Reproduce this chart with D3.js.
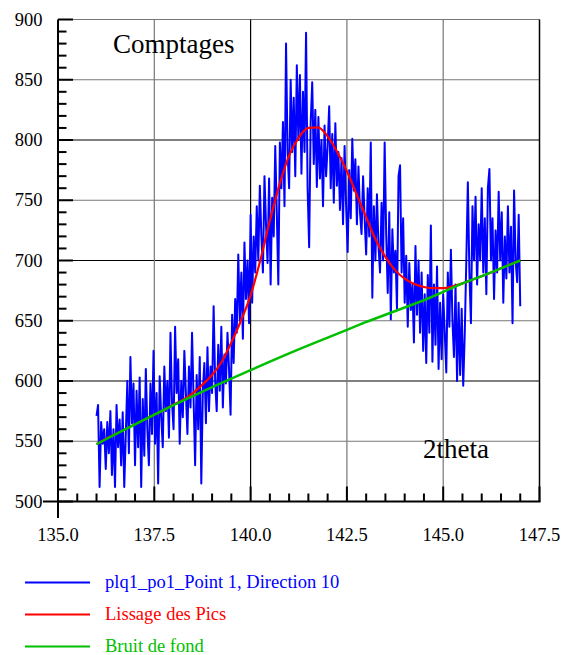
<!DOCTYPE html>
<html><head><meta charset="utf-8">
<script src="https://cdn.jsdelivr.net/npm/d3@7"></script>
<style>body{margin:0;background:#fff}svg{display:block}text{font-family:"Liberation Serif","Times New Roman",serif}</style>
</head><body>
<script>
// ---- data ----
const xStart = 136.0, xStep = 0.04;
const blueValues = [
571,580,512,566,548,560,527,566,540,575,522,560,512,580,545,568,530,574,512,556,600,540,620,565,598,
530,592,545,603,512,585,538,610,560,530,598,556,625,548,590,515,604,570,545,612,575,600,553,640,582,
560,645,590,618,548,600,570,625,590,556,612,578,640,585,530,605,560,620,515,592,615,565,628,575,612,
590,662,600,575,630,592,645,578,622,598,640,610,572,655,615,668,640,705,650,690,635,715,668,700,648,
738,665,720,690,745,700,762,720,690,770,730,698,768,680,752,720,795,740,680,798,760,815,745,880,790,
760,850,790,835,770,862,800,854,772,840,790,889,760,711,815,848,780,825,761,819,768,800,745,812,770,
795,828,760,805,748,814,762,790,742,785,730,795,745,707,775,735,801,758,784,730,778,740,722,770,735,
705,760,720,798,669,745,700,755,712,690,748,700,798,722,673,740,651,726,690,708,660,770,779,690,735,
665,704,645,698,659,680,632,712,655,700,640,690,625,672,615,688,640,729,616,680,630,695,610,665,618,
672,640,607,690,645,709,650,620,680,600,665,605,660,596,640,700,765,690,648,745,700,753,680,730,700,
760,690,735,672,760,776,700,735,668,725,690,757,700,740,665,720,685,745,690,728,648,758,700,682,738,662
];
const smoothX = [136,136.25,136.5,136.75,137,137.25,137.5,137.75,138,138.25,138.5,138.75,139,139.25,139.5,139.75,140,140.25,140.5,140.75,141,141.25,141.5,141.75,142,142.25,142.5,142.75,143,143.25,143.5,143.75,144,144.25,144.5,144.75,145,145.25,145.5,145.75,146,146.25,146.5,146.75,147];
const smoothY = [547.5,552,556,560,564,568,572,576,580.5,584.5,590,597,605,616,632,650,671,700,733,763,787,802,810,810.5,803,790,774,755,736,717,703,692,685,680.5,678,677,677,678.5,681,684,687,690,693.5,697,700];
const bgX = [136,136.5,137,137.5,138,138.5,139,139.5,140,140.5,141,141.5,142,142.5,143,143.5,144,144.5,145,145.5,146,146.5,147];
const bgY = [547.5,556,564,572,580,587.5,595,602,609,616,623,629.5,636,642.5,649,655,661,667,674,681,687,693.5,700];
const yTicks = [500,550,600,650,700,750,800,850,900];
const xTicks = [135,137.5,140,142.5,145,147.5];
const legendLabels = ["plq1_po1_Point 1, Direction 10","Lissage des Pics","Bruit de fond"];
const seriesColors = ["#0000ff","#ff0000","#00c000"];

// ---- chart ----
const W = 565, H = 655;
const svg = d3.select("body").append("svg").attr("width", W).attr("height", H);
const x = d3.scaleLinear().domain([135,147.5]).range([58,539.5]);
const y = d3.scaleLinear().domain([500,900]).range([501.5,19.5]);
const font = "Liberation Serif, Times New Roman, serif";

// grid
const blackY = [600,700,800];
svg.append("g").selectAll("line").data(yTicks.slice(1)).join("line")
  .attr("x1", 58).attr("x2", x(147.5)).attr("y1", d=>y(d)).attr("y2", d=>y(d))
  .attr("stroke", d => blackY.includes(d) ? "#000" : "#777").attr("stroke-width", 1.2);
const blackX = [140,147.5];
svg.append("g").selectAll("line").data(xTicks.slice(1)).join("line")
  .attr("y1", y(900)).attr("y2", y(500)).attr("x1", d=>x(d)).attr("x2", d=>x(d))
  .attr("stroke", d => blackX.includes(d) ? "#000" : "#777").attr("stroke-width", d=> d===147.5?1.5:1.2);

// series
const blue = blueValues.map((v,i)=>[xStart + i*xStep, v]);
const line = d3.line().x(d=>x(d[0])).y(d=>y(d[1]));
svg.append("path").datum(blue).attr("d", line)
  .attr("fill","none").attr("stroke",seriesColors[0]).attr("stroke-width",2).attr("stroke-linejoin","round");
const red = smoothX.map((v,i)=>[v, smoothY[i]]);
svg.append("path").datum(red).attr("d", d3.line().x(d=>x(d[0])).y(d=>y(d[1])).curve(d3.curveMonotoneX))
  .attr("fill","none").attr("stroke",seriesColors[1]).attr("stroke-width",2.2);
const green = bgX.map((v,i)=>[v, bgY[i]]);
svg.append("path").datum(green).attr("d", line)
  .attr("fill","none").attr("stroke",seriesColors[2]).attr("stroke-width",2.5);

// axes
const ax = svg.append("g").attr("stroke","#000").attr("stroke-width",2);
ax.append("line").attr("x1",58).attr("x2",58).attr("y1",y(900)).attr("y2",518);
ax.append("line").attr("x1",43).attr("x2",x(147.5)+1).attr("y1",y(500)).attr("y2",y(500));
const yMinor = d3.range(500, 901, 10);
ax.selectAll(".ym").data(yMinor).join("line")
  .attr("x1",58).attr("x2", d => d%50===0 ? 73 : 66.5).attr("y1", d=>y(d)).attr("y2", d=>y(d));
const xMinor = d3.range(0, 26).map(i => 135 + i*0.5);
ax.selectAll(".xm").data(xMinor).join("line")
  .attr("y1", y(500)).attr("y2", (d,i) => i%5===0 ? y(500)-15 : y(500)-8).attr("x1", d=>x(d)).attr("x2", d=>x(d));

// tick labels
svg.append("g").selectAll("text").data(yTicks).join("text")
  .attr("x", 42.5).attr("y", d=>y(d)+6).attr("text-anchor","end")
  .attr("font-family",font).attr("font-size",18.5).text(d=>d);
svg.append("g").selectAll("text").data(xTicks).join("text")
  .attr("x", d=>x(d)).attr("y", 541).attr("text-anchor","middle")
  .attr("font-family",font).attr("font-size",18.5).text(d=>d3.format(".1f")(d));

// titles
svg.append("text").attr("x",113).attr("y",53).attr("font-family",font).attr("font-size",27).text("Comptages");
svg.append("text").attr("x",423).attr("y",458).attr("font-family",font).attr("font-size",27).text("2theta");

// legend
const ly = [582.5, 614.5, 646.5];
const lg = svg.append("g");
legendLabels.forEach((t,i)=>{
  lg.append("line").attr("x1",25).attr("x2",90).attr("y1",ly[i]).attr("y2",ly[i])
    .attr("stroke",seriesColors[i]).attr("stroke-width",2);
  lg.append("text").attr("x",105).attr("y",ly[i]+5.5).attr("fill",seriesColors[i])
    .attr("font-family",font).attr("font-size",18.5).text(t);
});
</script>
</body></html>
